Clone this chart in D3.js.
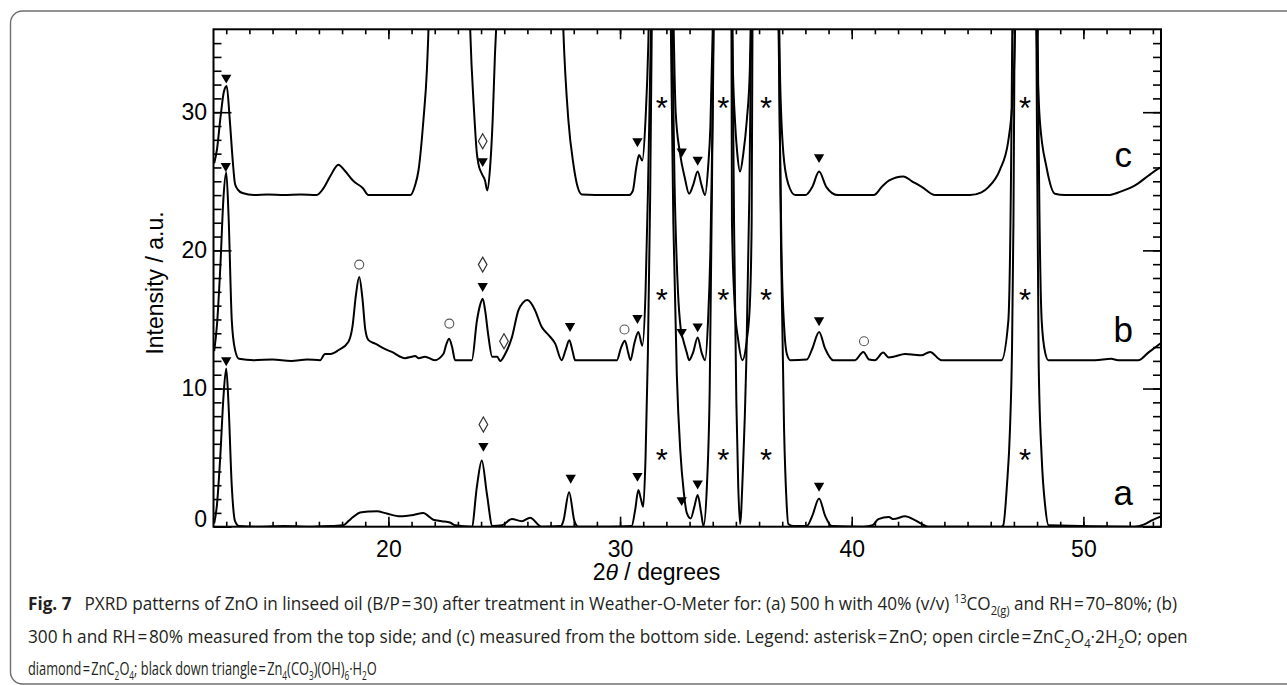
<!DOCTYPE html>
<html>
<head>
<meta charset="utf-8">
<script src="https://cdn.jsdelivr.net/npm/d3@7"></script>
<style>
  body { margin: 0; background: #fff; }
  svg { display: block; }
</style>
</head>
<body>
<div class="pxrd"></div>
<script>
// PXRD patterns: [2theta (deg), intensity (a.u., offset included)]
const patternA = [
  [12.48, 0.24], [12.6, 1.6], [12.75, 5.3], [12.88, 9.4], [13.0, 11.45], [13.1, 8.8], [13.24, 2.9],
  [13.38, 0.4], [13.55, 0.05], [14.5, 0.0], [15.5, 0.05], [16.5, 0.0], [17.5, 0.05], [18.06, 0.1],
  [18.3, 0.45], [18.49, 0.72], [18.78, 1.03], [19.2, 1.1], [19.5, 1.12], [19.93, 0.95], [20.5, 0.75],
  [21.08, 0.85], [21.51, 1.0], [21.7, 0.8], [21.94, 0.5], [22.3, 0.4], [22.66, 0.3], [22.88, 0.1],
  [23.6, 0.0], [23.82, 2.9], [24.03, 4.8], [24.25, 2.4], [24.49, 0.05], [24.9, 0.1], [25.33, 0.55],
  [25.76, 0.4], [26.12, 0.65], [26.6, 0.0], [27.45, 0.05], [27.55, 0.4], [27.8, 2.5], [28.03, 0.4],
  [28.2, 0.0], [29.5, 0.0], [30.5, 0.05], [30.65, 1.2], [30.79, 2.65], [30.9, 2.0], [31.0, 1.44],
  [31.1, 5], [31.2, 12.5], [31.3, 24], [31.4, 42], [31.77, 90], [32.15, 42], [32.3, 22], [32.45, 11],
  [32.6, 5.5], [32.75, 2.5], [32.88, 1.0], [33.05, 0.6], [33.2, 1.4], [33.35, 2.3], [33.5, 1.0],
  [33.6, 0.05], [33.75, 3], [33.87, 10], [33.97, 25], [34.05, 42], [34.42, 90], [34.82, 42],
  [34.92, 22], [35.02, 9], [35.1, 3], [35.18, 0.2], [35.3, 4], [35.45, 12], [35.58, 24], [35.7, 42],
  [36.25, 90], [36.82, 42], [36.95, 20], [37.08, 7], [37.18, 2], [37.26, 0.2], [37.5, 0.05],
  [38.06, 0.05], [38.3, 0.8], [38.59, 2.05], [38.85, 0.8], [39.14, 0.05], [40.5, 0.0], [40.9, 0.1],
  [41.15, 0.55], [41.6, 0.7], [41.8, 0.55], [42.3, 0.75], [42.7, 0.5], [43.02, 0.2], [43.3, 0.0],
  [46.45, 0.0], [46.54, 0.1], [46.7, 3], [46.83, 7], [46.92, 13], [46.98, 22], [47.03, 36], [47.1, 55],
  [47.5, 90], [47.9, 55], [47.97, 36], [48.07, 11.8], [48.2, 5], [48.35, 1.5], [48.5, 0.1],
  [52.2, 0.0], [52.6, 0.15], [53.0, 0.5], [53.35, 0.75]
]
const patternB = [
  [12.48, 12.7], [12.6, 14.6], [12.75, 19.0], [12.88, 23.8], [13.0, 25.65], [13.1, 22.5], [13.24, 14.9],
  [13.38, 12.8], [13.55, 12.15], [14.2, 12.05], [15.0, 12.1], [15.8, 12.0], [16.5, 12.1], [17.05, 12.05],
  [17.26, 12.5], [17.5, 12.5], [17.84, 12.77], [18.27, 13.37], [18.45, 14.5], [18.6, 16.8], [18.74, 18.07],
  [18.88, 16.5], [19.0, 14.3], [19.14, 13.5], [19.43, 13.25], [19.8, 12.9], [20.15, 12.65], [20.72, 12.2],
  [21.0, 12.3], [21.15, 12.35], [21.3, 12.2], [21.58, 12.3], [22.0, 12.05], [22.37, 12.5], [22.5, 13.2],
  [22.62, 13.6], [22.75, 13.0], [22.88, 12.05], [23.6, 12.05], [23.82, 14.9], [23.95, 16.0], [24.07, 16.5],
  [24.18, 15.6], [24.3, 14.0], [24.48, 12.3], [24.7, 12.3], [24.82, 12.0], [25.04, 12.5], [25.33, 13.7],
  [25.61, 15.66], [25.8, 16.2], [26.0, 16.4], [26.15, 16.2], [26.33, 15.66], [26.62, 14.45], [26.9, 13.9],
  [27.2, 13.25], [27.48, 12.05], [27.65, 12.8], [27.81, 13.5], [27.95, 12.7], [28.06, 12.05], [29.0, 12.05],
  [29.86, 12.05], [30.05, 13.0], [30.21, 13.45], [30.35, 12.6], [30.45, 12.05], [30.62, 13.3], [30.79, 14.1],
  [30.96, 13.1], [31.1, 17], [31.2, 24], [31.3, 33], [31.4, 42], [31.77, 90], [32.2, 42], [32.35, 25],
  [32.5, 17], [32.62, 14.3], [32.73, 13.5], [32.88, 12.6], [32.98, 12.05], [33.15, 12.6], [33.35, 13.7],
  [33.52, 12.6], [33.67, 12.05], [33.8, 15], [33.9, 20], [34.0, 30], [34.08, 42], [34.42, 90], [34.8, 42],
  [34.83, 22], [34.95, 16], [35.1, 13.5], [35.28, 12.05], [35.47, 13.5], [35.6, 16], [35.68, 22],
  [35.73, 42], [36.25, 90], [36.8, 42], [36.9, 28], [36.97, 19.8], [37.1, 14], [37.2, 12.5], [37.35, 12.05],
  [38.06, 12.1], [38.3, 12.9], [38.59, 14.1], [38.85, 12.9], [39.2, 12.05], [40.14, 12.05], [40.5, 12.65],
  [40.75, 12.1], [41.0, 12.05], [41.36, 12.6], [41.6, 12.25], [41.8, 12.3], [42.3, 12.5], [42.7, 12.45],
  [43.0, 12.4], [43.38, 12.65], [43.88, 12.05], [46.46, 12.05], [46.76, 14.9], [46.93, 36], [47.0, 55],
  [47.5, 90], [47.96, 55], [48.03, 36], [48.2, 14.9], [48.35, 12.6], [48.49, 12.05], [50.5, 12.05],
  [51.2, 12.15], [51.5, 12.05], [52.37, 12.05], [52.8, 12.6], [53.35, 13.3]
]
const patternC = [
  [12.48, 26.3], [12.6, 27.3], [12.75, 29.6], [12.9, 31.5], [13.02, 31.9], [13.15, 29.5], [13.28, 26.5],
  [13.38, 24.8], [13.5, 24.4], [13.7, 24.15], [14.2, 24.0], [14.8, 24.05], [15.5, 24.0], [16.2, 24.05],
  [16.9, 24.0], [17.2, 24.5], [17.5, 25.4], [17.84, 26.2], [18.1, 25.8], [18.5, 25.0], [18.9, 24.5],
  [19.14, 24.0], [20.0, 24.0], [20.94, 24.0], [21.15, 24.7], [21.3, 25.8], [21.51, 29.4], [21.66, 33.0],
  [21.73, 36], [21.85, 45], [22.6, 70], [23.4, 45], [23.53, 36], [23.7, 30], [23.82, 27.0], [23.88, 26.3],
  [24.03, 25.55], [24.17, 25.06], [24.27, 24.34], [24.38, 25.8], [24.5, 29.4], [24.6, 34.2], [24.65, 36],
  [24.8, 45], [26.1, 70], [27.4, 45], [27.55, 36], [27.77, 29.4], [27.98, 26.3], [28.17, 24.58],
  [28.35, 24.05], [29.5, 24.0], [30.4, 24.0], [30.55, 24.3], [30.7, 26.0], [30.82, 26.9], [30.96, 26.5],
  [31.1, 29.5], [31.22, 35], [31.3, 42], [31.77, 90], [32.25, 42], [32.4, 30], [32.59, 27.0], [32.8, 25.2],
  [32.98, 24.1], [33.15, 24.7], [33.35, 25.7], [33.52, 24.7], [33.67, 24.0], [33.8, 26], [33.9, 29],
  [34.0, 36], [34.06, 42], [34.42, 90], [34.8, 42], [34.86, 34], [34.96, 29.4], [35.06, 27.0], [35.18, 25.7],
  [35.32, 27.0], [35.47, 29.4], [35.6, 33], [35.7, 42], [36.25, 90], [36.82, 42], [36.9, 33], [37.05, 27.0],
  [37.26, 24.8], [37.56, 24.0], [38.0, 24.0], [38.3, 24.6], [38.59, 25.7], [38.9, 24.6], [39.4, 24.0],
  [40.95, 24.0], [41.3, 24.6], [41.6, 25.05], [42.23, 25.35], [42.6, 25.0], [43.02, 24.6], [43.6, 24.0],
  [45.1, 24.0], [45.6, 24.2], [45.9, 24.58], [46.39, 25.8], [46.76, 27.95], [46.97, 31.8], [47.05, 36],
  [47.12, 55], [47.5, 90], [47.9, 55], [47.98, 36], [48.12, 29.4], [48.41, 26.0], [48.77, 24.1],
  [49.2, 24.0], [51.07, 24.0], [51.6, 24.25], [52.23, 24.7], [52.8, 25.4], [53.22, 25.9], [53.35, 26.0]
]

const seriesNames = ['a', 'b', 'c']
const seriesLabelY = [1.6, 13.4, 26.0]   // baseline of the a / b / c labels (a.u.)
const seriesLabelX = 51.72

const xMajor = [20, 30, 40, 50]
const yMajor = [0, 10, 20, 30]

// Phase markers [2theta, intensity]
const triangles = [
  [13.0, 32.5], [12.98, 26.1], [13.0, 12.05],
  [24.07, 26.46], [24.07, 17.42], [24.1, 5.85],
  [27.84, 14.53], [27.87, 3.54],
  [30.75, 27.9], [30.75, 15.1], [30.75, 3.68],
  [32.66, 27.16], [32.66, 14.1], [32.66, 1.92],
  [33.35, 26.56], [33.35, 14.5], [33.35, 3.13],
  [38.59, 26.75], [38.59, 14.94], [38.59, 2.96]
]
const asterisks = [
  [31.8, 30.77], [34.46, 30.77], [36.3, 30.77], [47.48, 30.77],
  [31.8, 16.9], [34.46, 16.9], [36.3, 16.9], [47.48, 16.9],
  [31.8, 5.3], [34.46, 5.3], [36.3, 5.3], [47.48, 5.3]
]
const circles = [[18.74, 18.97], [22.63, 14.7], [30.19, 14.27], [40.53, 13.42]]
const diamonds = [[24.07, 27.9], [24.07, 18.97], [24.99, 13.42], [24.1, 7.4]]

const captionLines = [
  [{ t: 'Fig. 7', b: true }, { t: '\u2002 PXRD patterns of ZnO in linseed oil (B/P\u200a=\u200a30) after treatment in Weather-O-Meter for: (a) 500 h with 40% (v/v) ' },
   { t: '13', sup: true }, { t: 'CO' }, { t: '2(g)', sub: true }, { t: ' and RH\u200a=\u200a70\u201380%; (b)' }],
  [{ t: '300 h and RH\u200a=\u200a80% measured from the top side; and (c) measured from the bottom side. Legend: asterisk\u200a=\u200aZnO; open circle\u200a=\u200aZnC' },
   { t: '2', sub: true }, { t: 'O' }, { t: '4', sub: true }, { t: '\u00b72H' }, { t: '2', sub: true }, { t: 'O; open' }],
  [{ t: 'diamond\u200a=\u200aZnC' }, { t: '2', sub: true }, { t: 'O' }, { t: '4', sub: true }, { t: '; black down triangle\u200a=\u200aZn' },
   { t: '4', sub: true }, { t: '(CO' }, { t: '3', sub: true }, { t: ')(OH)' }, { t: '6', sub: true }, { t: '\u00b7H' }, { t: '2', sub: true }, { t: 'O' }]
]

/* Configuration */
const width = 1287
const height = 685
const frame = { left: 213.5, right: 1161, top: 29.3, bottom: 526.7 }
const font = '"Liberation Sans", Arial, Helvetica, sans-serif'

const x = d3.scaleLinear().domain([12.45, 53.35]).range([frame.left, frame.right])
const y = d3.scaleLinear().domain([0, 36]).range([frame.bottom, frame.top])

const svg = d3.select('.pxrd')
    .append('svg')
    .attr('width', width)
    .attr('height', height)
    .attr('viewBox', [0, 0, width, height])

svg.append('rect').attr('width', width).attr('height', height).attr('fill', '#fff')

// Rounded border of the figure box
svg.append('rect')
    .attr('x', 10.5).attr('y', 11)
    .attr('width', 1300).attr('height', 673)
    .attr('rx', 12)
    .attr('fill', 'none')
    .attr('stroke', '#6f6f6f')
    .attr('stroke-width', 1.4)

svg.append('clipPath').attr('id', 'plot-clip')
    .append('rect')
    .attr('x', frame.left).attr('y', frame.top)
    .attr('width', frame.right - frame.left).attr('height', frame.bottom - frame.top)

/* Axes: minor ticks every unit, major ticks every 10, all pointing inwards */
function styleAxis(g) {
    g.select('.domain').remove()
    g.selectAll('.tick line').attr('stroke', '#000').attr('stroke-width', 1.6)
    g.selectAll('.tick text')
        .attr('fill', '#000')
        .style('font-family', font)
        .style('font-size', '23px')
}

const xMinor = d3.range(13, 54)
const yMinor = d3.range(1, 36)

svg.append('g').attr('transform', `translate(0,${frame.bottom})`)
    .call(d3.axisBottom(x).tickValues(xMinor).tickSizeInner(-5).tickSizeOuter(0).tickFormat(''))
    .call(styleAxis)
svg.append('g').attr('transform', `translate(0,${frame.bottom})`)
    .call(d3.axisBottom(x).tickValues(xMajor).tickSizeInner(-10).tickSizeOuter(0).tickPadding(13.5).tickFormat(d3.format('d')))
    .call(styleAxis)
svg.append('g').attr('transform', `translate(0,${frame.top})`)
    .call(d3.axisTop(x).tickValues(xMinor).tickSizeInner(-5).tickSizeOuter(0).tickFormat(''))
    .call(styleAxis)
svg.append('g').attr('transform', `translate(0,${frame.top})`)
    .call(d3.axisTop(x).tickValues(xMajor).tickSizeInner(-10).tickSizeOuter(0).tickFormat(''))
    .call(styleAxis)

svg.append('g').attr('transform', `translate(${frame.left},0)`)
    .call(d3.axisLeft(y).tickValues(yMinor).tickSizeInner(-8).tickSizeOuter(0).tickFormat(''))
    .call(styleAxis)
const yLeft = svg.append('g').attr('transform', `translate(${frame.left},0)`)
    .call(d3.axisLeft(y).tickValues(yMajor).tickSizeInner(-18).tickSizeOuter(0).tickPadding(6.5).tickFormat(d3.format('d')))
    .call(styleAxis)
// the "0" label sits a little above its tick
yLeft.selectAll('.tick').filter(d => d === 0).select('text').attr('y', -7.5)

svg.append('g').attr('transform', `translate(${frame.right},0)`)
    .call(d3.axisRight(y).tickValues(yMinor).tickSizeInner(-8).tickSizeOuter(0).tickFormat(''))
    .call(styleAxis)
svg.append('g').attr('transform', `translate(${frame.right},0)`)
    .call(d3.axisRight(y).tickValues(yMajor).tickSizeInner(-18).tickSizeOuter(0).tickFormat(''))
    .call(styleAxis)

/* Patterns */
const line = d3.line()
    .x(d => x(d[0]))
    .y(d => y(d[1]))
    .curve(d3.curveMonotoneX)

svg.append('g')
    .attr('clip-path', 'url(#plot-clip)')
    .selectAll('path')
    .data([patternA, patternB, patternC])
    .join('path')
    .attr('fill', 'none')
    .attr('stroke', '#000')
    .attr('stroke-width', 2)
    .attr('stroke-linejoin', 'round')
    .attr('d', line)

// Frame
svg.append('rect')
    .attr('x', frame.left).attr('y', frame.top)
    .attr('width', frame.right - frame.left).attr('height', frame.bottom - frame.top)
    .attr('fill', 'none')
    .attr('stroke', '#000')
    .attr('stroke-width', 2)

/* Markers */
svg.append('g')
    .selectAll('path')
    .data(triangles)
    .join('path')
    .attr('d', d3.symbol(d3.symbolTriangle, 46))
    .attr('transform', d => `translate(${x(d[0])},${y(d[1])}) rotate(180)`)
    .attr('fill', '#000')

svg.append('g')
    .selectAll('text')
    .data(asterisks)
    .join('text')
    .attr('x', d => x(d[0]))
    .attr('y', d => y(d[1]))
    .attr('dy', '0.56em')
    .attr('text-anchor', 'middle')
    .style('font-family', font)
    .style('font-size', '31px')
    .text('*')

svg.append('g')
    .selectAll('circle')
    .data(circles)
    .join('circle')
    .attr('cx', d => x(d[0]))
    .attr('cy', d => y(d[1]))
    .attr('r', 4.5)
    .attr('fill', 'none')
    .attr('stroke', '#555')
    .attr('stroke-width', 1.1)

svg.append('g')
    .selectAll('path')
    .data(diamonds)
    .join('path')
    .attr('d', 'M0,-7.5L4.3,0L0,7.5L-4.3,0Z')
    .attr('transform', d => `translate(${x(d[0])},${y(d[1])})`)
    .attr('fill', 'none')
    .attr('stroke', '#333')
    .attr('stroke-width', 1.2)

// Series labels
svg.append('g')
    .selectAll('text')
    .data(d3.zip(seriesNames, seriesLabelY))
    .join('text')
    .attr('x', x(seriesLabelX))
    .attr('y', d => y(d[1]))
    .attr('text-anchor', 'middle')
    .style('font-family', font)
    .style('font-size', '35px')
    .text(d => d[0])

/* Axis titles */
const xTitle = svg.append('text')
    .attr('x', 656.5)
    .attr('y', 580)
    .attr('text-anchor', 'middle')
    .style('font-family', font)
    .style('font-size', '23px')
xTitle.append('tspan').text('2')
xTitle.append('tspan').style('font-style', 'italic').text('\u03b8')
xTitle.append('tspan').text(' / degrees')

svg.append('text')
    .attr('transform', 'translate(163,283) rotate(-90)')
    .attr('text-anchor', 'middle')
    .style('font-family', font)
    .style('font-size', '23px')
    .text('Intensity / a.u.')

/* Caption: each line squeezed to the width it has in the figure */
const captionX = 28
const captionBaselines = [610.5, 643.5, 675]
const captionEnds = [1178, 1189, 377]

captionLines.forEach((segs, i) => {
    const t = svg.append('text')
        .attr('x', captionX)
        .attr('y', captionBaselines[i])
        .style('font-family', '"Open Sans", "Noto Sans", sans-serif')
        .style('font-size', '18.5px')
        .attr('fill', '#231f20')
    let shift = 0
    segs.forEach(s => {
        const want = s.sub ? 5 : s.sup ? -7 : 0
        t.append('tspan')
            .attr('dy', want - shift)
            .style('font-size', s.sub || s.sup ? '12px' : null)
            .style('font-weight', s.b ? 'bold' : null)
            .text(s.t)
        shift = want
    })
    const w = t.node().getBBox().width
    const k = (captionEnds[i] - captionX) / w
    t.attr('transform', `translate(${captionX},0) scale(${k},1) translate(${-captionX},0)`)
})
</script>
</body>
</html>
